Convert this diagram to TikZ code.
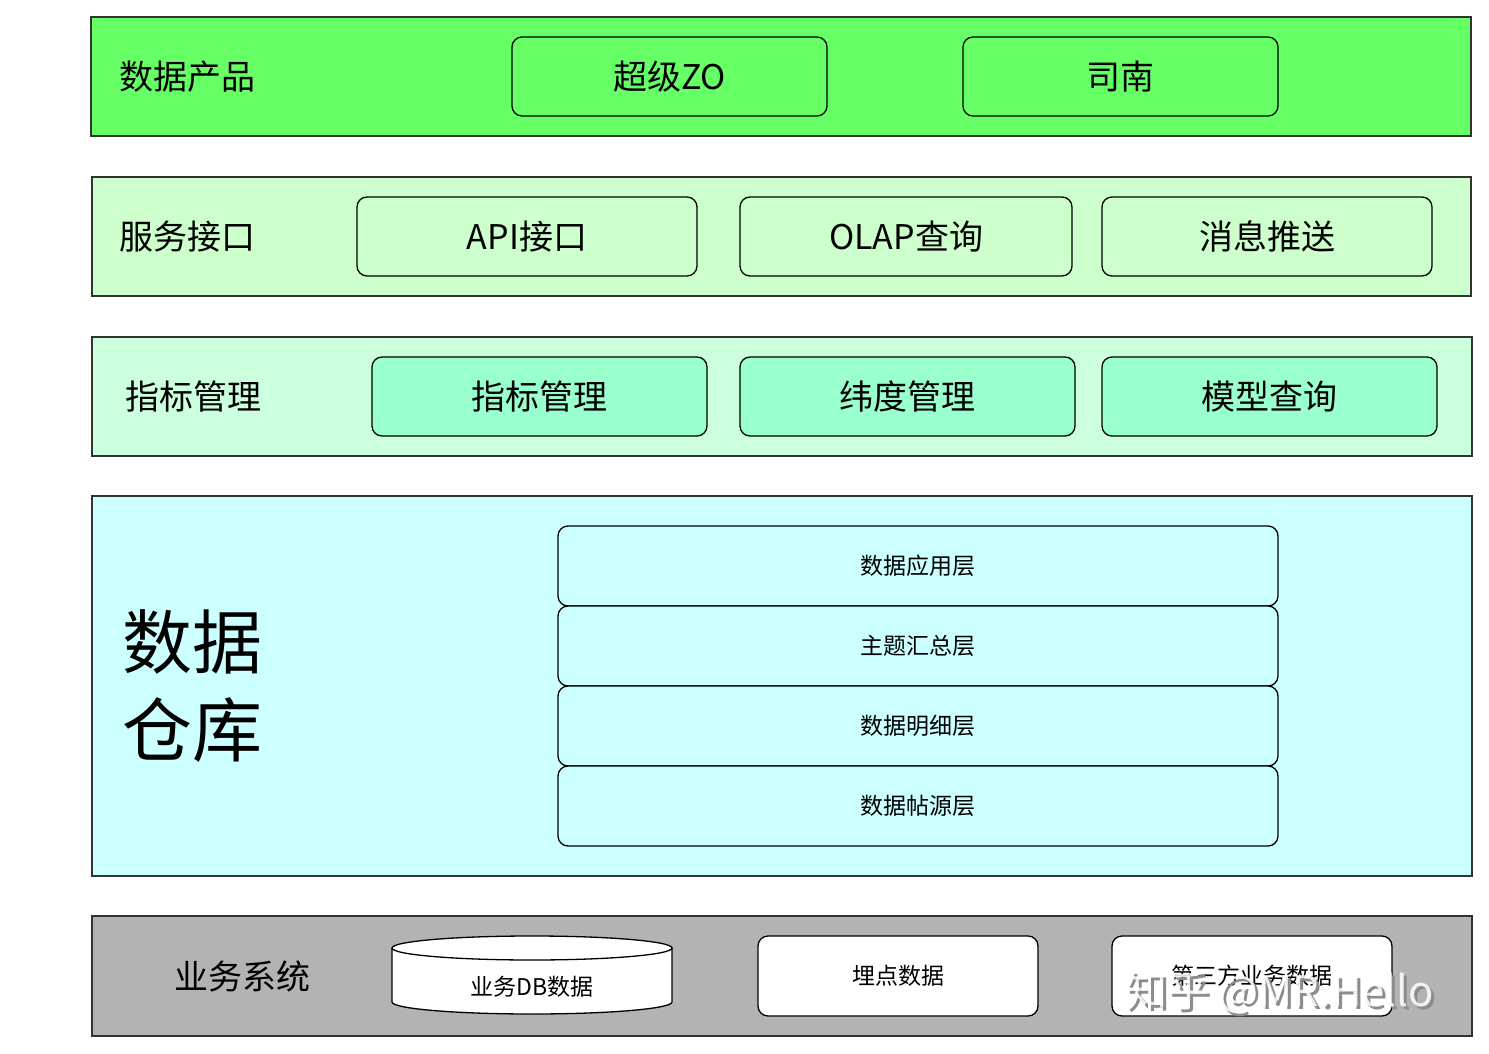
\documentclass[tikz,border=0pt]{standalone}
\usepackage{fontspec}
\setmainfont{Noto Sans CJK SC}
\usetikzlibrary{positioning}
\definecolor{prodgreen}{HTML}{66FF66}
\definecolor{svcgreen}{HTML}{CCFFCC}
\definecolor{metgreen}{HTML}{CCFFDD}
\definecolor{metbox}{HTML}{99FFCC}
\definecolor{dwcyan}{HTML}{CCFFFF}
\definecolor{bizgray}{HTML}{B3B3B3}
\begin{document}
\begin{tikzpicture}[x=1pt,y=-1pt,
  band/.style={draw=black!80,line width=1.8pt},
  rbox/.style={draw=black,line width=1.3pt,rounded corners=10pt},
  bigtxt/.style={font=\fontsize{34}{40}\selectfont},
  smalltxt/.style={font=\fontsize{23}{28}\selectfont},
]
\useasboundingbox (0,0) rectangle (1489,1054);
\fill[white] (0,0) rectangle (1489,1054);
% layer 1
\draw[band,fill=prodgreen] (91,17) rectangle (1471,136);
\node[bigtxt] (l1) at (187,77) {数据产品};
\draw[rbox,fill=prodgreen] (512,37) rectangle node[bigtxt] (p1) {超级ZO} (827,116);
\draw[rbox,fill=prodgreen] (963,37) rectangle node[bigtxt] (p2) {司南} (1278,116);
% layer 2
\draw[band,fill=svcgreen] (92,177) rectangle (1471,296);
\node[bigtxt] (l2) at (187,237) {服务接口};
\draw[rbox,fill=svcgreen] (357,197) rectangle node[bigtxt] (s1) {API接口} (697,276);
\draw[rbox,fill=svcgreen] (740,197) rectangle node[bigtxt] (s2) {OLAP查询} (1072,276);
\draw[rbox,fill=svcgreen] (1102,197) rectangle node[bigtxt] (s3) {消息推送} (1432,276);
% layer 3
\draw[band,fill=metgreen] (92,337) rectangle (1472,456);
\node[bigtxt] (l3) at (193,397) {指标管理};
\draw[rbox,fill=metbox] (372,357) rectangle node[bigtxt] (m1) {指标管理} (707,436);
\draw[rbox,fill=metbox] (740,357) rectangle node[bigtxt] (m2) {纬度管理} (1075,436);
\draw[rbox,fill=metbox] (1102,357) rectangle node[bigtxt] (m3) {模型查询} (1437,436);
% layer 4
\draw[band,fill=dwcyan] (92,496) rectangle (1472,876);
\node[font=\fontsize{70}{88}\selectfont,align=left] (l4) at (192,686) {数据\\仓库};
\draw[rbox,fill=dwcyan] (558,526) rectangle node[smalltxt] (w1) {数据应用层} (1278,606);
\draw[rbox,fill=dwcyan] (558,606) rectangle node[smalltxt] (w2) {主题汇总层} (1278,686);
\draw[rbox,fill=dwcyan] (558,686) rectangle node[smalltxt] (w3) {数据明细层} (1278,766);
\draw[rbox,fill=dwcyan] (558,766) rectangle node[smalltxt] (w4) {数据帖源层} (1278,846);
% layer 5
\draw[band,fill=bizgray] (92,916) rectangle (1472,1036);
\node[bigtxt] (l5) at (242,976) {业务系统};
\draw[line width=1.3pt,fill=white] (392,948) -- (392,1002) arc[start angle=180,end angle=0,x radius=140,y radius=12] -- (672,948);
\draw[line width=1.3pt,fill=white] (532,948) ellipse[x radius=140,y radius=12];
\node[smalltxt] (b1) at (532,987) {业务DB数据};
\draw[rbox,fill=white] (758,936) rectangle node[smalltxt] (b2) {埋点数据} (1038,1016);
\draw[rbox,fill=white] (1112,936) rectangle node[smalltxt] (b3) {第三方业务数据} (1392,1016);
% watermark
\node[font=\fontsize{42}{50}\selectfont,text=black!45,anchor=west] (wm0) at (1125,995) {知乎 @MR.Hello};
\node[font=\fontsize{42}{50}\selectfont,text=white,opacity=0.85,anchor=west] (wm) at (1122,992) {知乎 @MR.Hello};
\end{tikzpicture}
\end{document}
